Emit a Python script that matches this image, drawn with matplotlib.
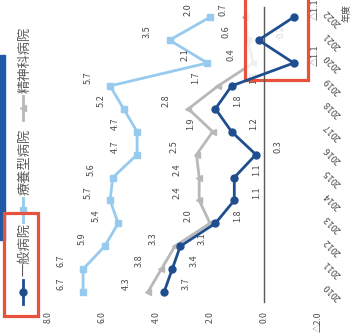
import matplotlib
matplotlib.use("Agg")
import matplotlib.pyplot as plt
import matplotlib.transforms as mtransforms
from matplotlib.patches import Rectangle

plt.rcParams['font.family'] = ['Noto Sans CJK JP', 'DejaVu Sans']

years = [2010, 2011, 2012, 2013, 2014, 2015, 2016, 2017, 2018, 2019, 2020, 2021, 2022]
general = [3.7, 3.4, 3.1, 1.8, 1.1, 1.1, 0.3, 1.2, 1.8, 1.2, -1.1, 0.2, -1.1]
ryoyo = [6.7, 6.7, 5.9, 5.4, 5.7, 5.6, 4.7, 4.7, 5.2, 5.7, 2.1, 3.5, 2.0]
seishin = [4.3, 3.8, 3.3, 2.0, 2.4, 2.4, 2.5, 1.9, 2.8, 1.7, 0.4, 0.6, 0.7]
series_names = ['一般病院', '療養型病院', '精神科病院']
value_ticks = [8.0, 6.0, 4.0, 2.0, 0.0, -2.0]
axis_unit = '年度'

W, H = 358, 333
DARK = '#1f4e8f'
LIGHT = '#96caef'
GRAY = '#b8b8b8'
TXT = '#4a4a4a'
RED = '#e8513c'


def fmt(v):
    return ('△' if v < 0 else '') + f'{abs(v):.1f}'


fig = plt.figure(figsize=(W / 100, H / 100), dpi=100)
ax = fig.add_axes([0, 24 / H, 1, 309 / H])
ax.set_xlim(264 / 27, (264 - W) / 27)
ax.set_ylim(2010 - 17 / 22.9, 2010 + 292 / 22.9)
for s in ax.spines.values():
    s.set_visible(False)
ax.set_yticks([])
ax.set_xticks(value_ticks)
ax.set_xticklabels([fmt(v) for v in value_ticks], rotation=90, fontsize=6.2, color=TXT)
ax.tick_params(axis='x', length=0, pad=1.5)

# pixel transform (y down)
T = mtransforms.Affine2D().scale(1 / W, -1 / H).translate(0, 1) + fig.transFigure

# zero line
ax.axvline(0, ymin=7 / 309, ymax=302 / 309, color='#595959', lw=1, zorder=4.5)

ax.plot(seishin, years, color=GRAY, marker='<', ms=5, lw=2, zorder=3)
ax.plot(ryoyo, years, color=LIGHT, marker='s', ms=4.5, lw=2, zorder=3)
ax.plot(general, years, color=DARK, marker='o', ms=5, lw=2, zorder=5)

for vals, dx, dy in [(general, 22, 8), (ryoyo, -22, 8), (seishin, -22, 8)]:
    for v, y in zip(vals, years):
        ax.annotate(fmt(v), (v, y), xytext=(dx, dy), textcoords='offset pixels',
                    rotation=90, ha='center', va='center', fontsize=6.5, color=TXT, zorder=3)

tr = ax.get_yaxis_transform()
for y in years:
    ax.text(333 / W, y, str(y), transform=tr, rotation=135, rotation_mode='anchor',
            ha='center', va='center', fontsize=6.5, color=TXT)
ax.text(347, 13, axis_unit, transform=T, rotation=90, ha='center', va='center',
        fontsize=6.5, color=TXT, clip_on=False)

# title bar fragment
ax.add_patch(Rectangle((0, 55), 5, 185, transform=T, color='#1f5aa6', clip_on=False, zorder=2))

# legend
leg = [(series_names[0], DARK, 'o', 292, 276),
       (series_names[1], LIGHT, 's', 210, 195),
       (series_names[2], GRAY, '<', 108, 93)]
for name, col, mk, my, ty in leg:
    ax.plot([23, 23], [my - 12, my + 12], transform=T, color=col, lw=2, clip_on=False, zorder=6)
    ax.plot([23], [my], transform=T, color=col, marker=mk, ms=5, clip_on=False, zorder=6)
    ax.text(25, ty, name, transform=T, rotation=90, rotation_mode='anchor', ha='left',
            va='center', fontsize=9.5, color='#595959', clip_on=False, zorder=6)

# highlight boxes
ax.add_patch(Rectangle((4, 213), 34, 103, transform=T, fill=False, edgecolor=RED,
                       lw=2.3, clip_on=False, zorder=7))
ax.add_patch(Rectangle((245, -10), 63, 90, transform=T, facecolor=(1, 1, 1, 0.8),
                       edgecolor=RED, lw=2.3, clip_on=False, zorder=4))

fig.savefig('out.png', dpi=100)
